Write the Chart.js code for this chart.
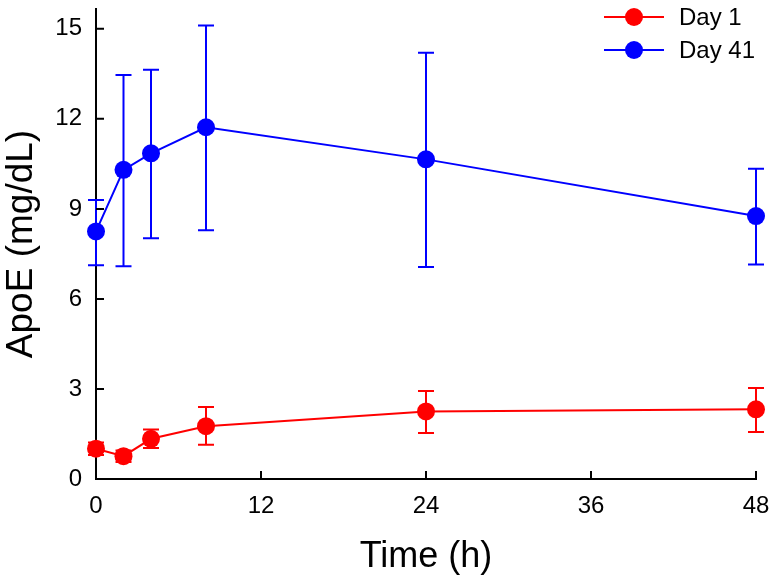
<!DOCTYPE html>
<html>
<head>
<meta charset="utf-8">
<script src="https://cdn.jsdelivr.net/npm/chart.js@4.4.1/dist/chart.umd.min.js"></script>
<style>
  html, body { margin: 0; padding: 0; background: #fff; }
  #wrap { width: 771px; height: 582px; }
</style>
</head>
<body>
<div id="wrap"><canvas id="chart" width="771" height="582"></canvas></div>
<script>
'use strict';

// ── Data ──────────────────────────────────────────────────────────────────────
const TIMES      = [0, 2, 4, 8, 24, 48];
const DAY1       = [1.01, 0.76, 1.34, 1.76, 2.25, 2.32];
const DAY1_HI    = [1.22, 0.95, 1.65, 2.40, 2.93, 3.03];
const DAY1_LO    = [0.80, 0.57, 1.03, 1.14, 1.53, 1.57];
const DAY41      = [8.25, 10.30, 10.85, 11.72, 10.65, 8.76];
const DAY41_HI   = [9.30, 13.46, 13.64, 15.11, 14.20, 10.34];
const DAY41_LO   = [7.12, 7.09, 8.02, 8.29, 7.06, 7.15];
const X_TICKS    = [0, 12, 24, 36, 48];
const Y_TICKS    = [0, 3, 6, 9, 12, 15];
const LABELS     = ['Day 1', 'Day 41'];
const COLORS     = ['#ff0000', '#0000ff'];

const FONT = 'Arial, "Liberation Sans", sans-serif';

// ── Plugins ───────────────────────────────────────────────────────────────────
// vertical error bars with caps, drawn under the markers
const errorBars = {
  id: 'errorBars',
  beforeDatasetsDraw(chart) {
    const { ctx, scales: { x, y } } = chart;
    const sets = [[DAY1_LO, DAY1_HI], [DAY41_LO, DAY41_HI]];
    ctx.save();
    ctx.lineWidth = 2;
    sets.forEach(([lo, hi], i) => {
      ctx.strokeStyle = COLORS[i];
      TIMES.forEach((t, j) => {
        const px = x.getPixelForValue(t);
        const y0 = y.getPixelForValue(lo[j]);
        const y1 = y.getPixelForValue(hi[j]);
        ctx.beginPath();
        ctx.moveTo(px, y0); ctx.lineTo(px, y1);
        ctx.moveTo(px - 8, y0); ctx.lineTo(px + 8, y0);
        ctx.moveTo(px - 8, y1); ctx.lineTo(px + 8, y1);
        ctx.stroke();
      });
    });
    ctx.restore();
  }
};

// tick marks pointing into the plot
const innerTicks = {
  id: 'innerTicks',
  afterDraw(chart) {
    const { ctx, chartArea: a, scales: { x, y } } = chart;
    ctx.save();
    ctx.strokeStyle = '#000';
    ctx.lineWidth = 2;
    ctx.beginPath();
    X_TICKS.forEach(v => {
      const px = x.getPixelForValue(v);
      ctx.moveTo(px, a.bottom); ctx.lineTo(px, a.bottom - 8);
    });
    Y_TICKS.forEach(v => {
      const py = y.getPixelForValue(v);
      ctx.moveTo(a.left, py); ctx.lineTo(a.left + 8, py);
    });
    ctx.stroke();
    ctx.restore();
  }
};

// legend: line + marker + label
const lineLegend = {
  id: 'lineLegend',
  afterDraw(chart) {
    const { ctx } = chart;
    ctx.save();
    chart.data.datasets.forEach((ds, i) => {
      const cy = 17 + i * 33;
      ctx.strokeStyle = ds.borderColor;
      ctx.lineWidth = 2;
      ctx.beginPath();
      ctx.moveTo(604, cy); ctx.lineTo(664, cy);
      ctx.stroke();
      ctx.fillStyle = ds.backgroundColor;
      ctx.beginPath();
      ctx.arc(634, cy, 9, 0, Math.PI * 2);
      ctx.fill();
      ctx.fillStyle = '#000';
      ctx.font = '24px ' + FONT;
      ctx.textBaseline = 'middle';
      ctx.textAlign = 'left';
      ctx.fillText(ds.label, 679, cy + 1);
    });
    ctx.restore();
  }
};

// ── Chart ─────────────────────────────────────────────────────────────────────
const series = [DAY1, DAY41];

new Chart(document.getElementById('chart').getContext('2d'), {
  type: 'line',
  data: {
    datasets: series.map((vals, i) => ({
      label:            LABELS[i],
      data:             TIMES.map((t, j) => ({ x: t, y: vals[j] })),
      borderColor:      COLORS[i],
      backgroundColor:  COLORS[i],
      borderWidth:      2,
      pointRadius:      9,
      pointBorderWidth: 0,
      tension:          0,
      clip:             false,
    }))
  },
  options: {
    responsive: false,
    animation:  false,
    devicePixelRatio: 1,
    layout: { padding: { top: 5, right: 15, left: 0, bottom: 0 } },
    plugins: {
      legend:  { display: false },
      tooltip: { enabled: false },
    },
    scales: {
      x: {
        type: 'linear',
        min: 0, max: 48,
        afterBuildTicks: s => { s.ticks = X_TICKS.map(v => ({ value: v })); },
        afterFit: s => { s.height = 103; s.paddingLeft = 0; s.paddingRight = 0; },
        grid:   { display: true, drawOnChartArea: false, drawTicks: false },
        border: { display: true, color: '#000', width: 2 },
        ticks:  { color: '#000', padding: 13, maxRotation: 0, font: { family: FONT, size: 24 } },
        title:  { display: true, text: 'Time (h)', color: '#000', padding: { top: 0, bottom: 3 },
                  font: { family: FONT, size: 36 } },
      },
      y: {
        min: 0, max: 15.66,
        afterBuildTicks: s => { s.ticks = Y_TICKS.map(v => ({ value: v })); },
        afterFit: s => { s.width = 96; s.paddingTop = 0; s.paddingBottom = 0; },
        grid:   { display: true, drawOnChartArea: false, drawTicks: false },
        border: { display: true, color: '#000', width: 2 },
        ticks:  { color: '#000', padding: 14, font: { family: FONT, size: 24 } },
        title:  { display: true, text: 'ApoE (mg/dL)', color: '#000', padding: { top: 0, bottom: 0 },
                  font: { family: FONT, size: 37 } },
      }
    }
  },
  plugins: [errorBars, innerTicks, lineLegend]
});
</script>
</body>
</html>
